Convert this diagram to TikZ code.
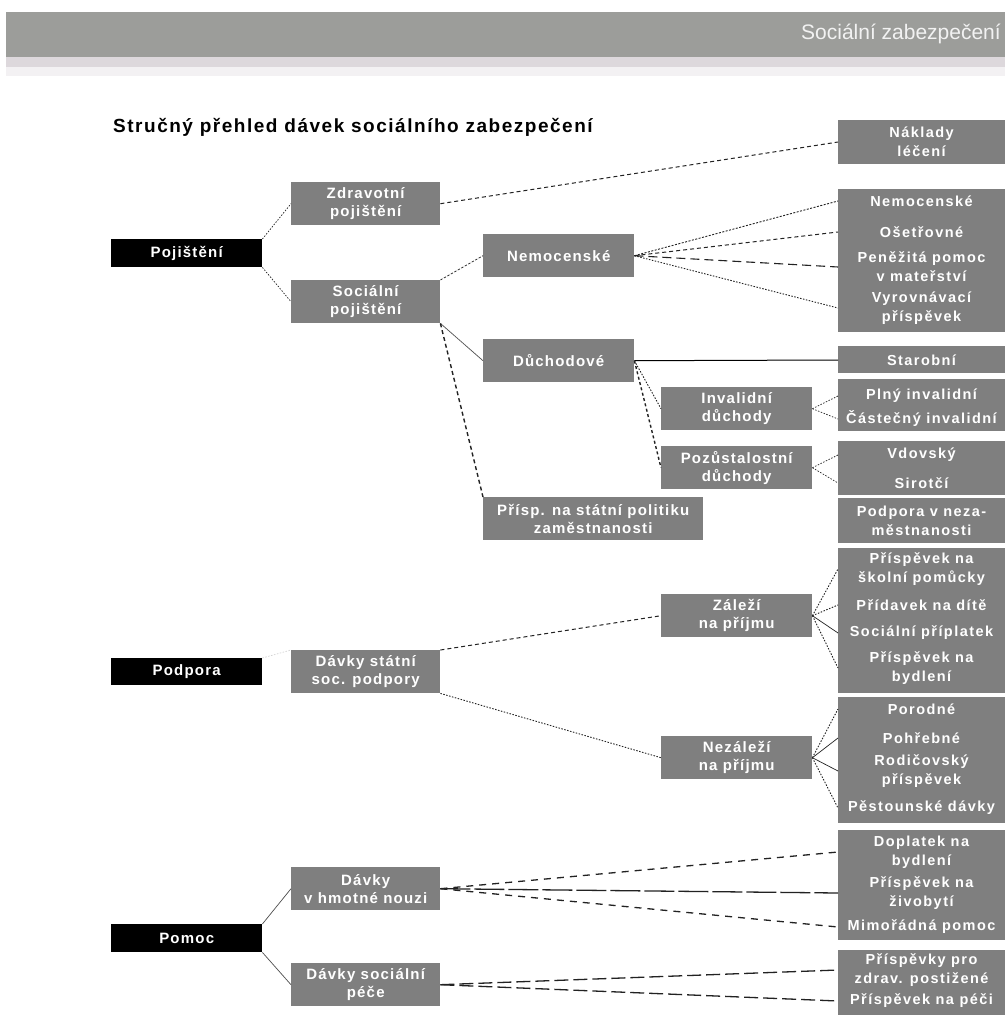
\documentclass[tikz,border=0pt]{standalone}
\usepackage{fontspec}
\setmainfont{Liberation Sans}
\newfontfamily\mycolfont{Liberation Sans}[LetterSpace=8]
\newfontfamily\myrfont{Liberation Sans}[LetterSpace=10]
\newfontfamily\mytitlefont{Liberation Sans}[LetterSpace=8]
\definecolor{boxgray}{HTML}{7F7F7F}
\definecolor{headgray}{HTML}{9C9D9A}
\definecolor{stripe}{HTML}{DDD8DC}
\definecolor{headtxt}{HTML}{F2F2F2}
\definecolor{linecol}{HTML}{222222}
\tikzset{
  blk/.style={fill=black, text=white, inner sep=0pt, anchor=north west,
    minimum width=151, minimum height=28,
    font=\mycolfont\bfseries\fontsize{15}{18}\selectfont},
  gbox/.style={fill=boxgray, text=white, inner sep=0pt, anchor=north west,
    align=center, minimum height=43,
    font=\mycolfont\bfseries\fontsize{15}{18}\selectfont},
  rbox/.style={fill=boxgray, inner sep=0pt, anchor=north west, minimum width=167},
  rtxt/.style={text=white, align=center, inner sep=0pt,
    font=\myrfont\bfseries\fontsize{14.5}{19}\selectfont},
  con/.style={draw=linecol, line width=0.7pt},
  dotl/.style={con, dash pattern=on 1.5pt off 1.5pt},
  dashl/.style={con, line width=1pt, dash pattern=on 4pt off 3pt},
  thickdash/.style={con, line width=1.4pt, dash pattern=on 4pt off 3pt},
  longdash/.style={con, line width=1.3pt, dash pattern=on 9pt off 5pt},
  vlongdash/.style={con, line width=1.3pt, dash pattern=on 30pt off 4pt},
}
\begin{document}
\begin{tikzpicture}[x=1pt, y=-1pt]
\useasboundingbox (0,0) rectangle (1005,1015);
\fill[white] (0,0) rectangle (1005,1015);
% header
\fill[headgray] (6,12) rectangle (1005,57);
\fill[stripe] (6,57) rectangle (1005,67);
\fill[stripe!35] (6,67) rectangle (1005,76);
\node[anchor=east, text=headtxt, inner sep=0pt, font=\fontsize{21}{24}\selectfont] (head) at (1001,34) {Sociální zabezpečení};
% title
\node[anchor=base west, inner sep=0pt, font=\mytitlefont\bfseries\fontsize{19}{21}\selectfont] (title) at (113,132) {Stručný přehled dávek sociálního zabezpečení};

% black boxes
\node[blk] (poj) at (111,239) {Pojištění};
\node[blk, minimum height=27] (pod) at (111,658) {Podpora};
\node[blk] (pom) at (111,924) {Pomoc};

% column 2
\node[gbox, minimum width=149] (zdrav) at (291,182) {Zdravotní\\pojištění};
\node[gbox, minimum width=149] (socp) at (291,280) {Sociální\\pojištění};
\node[gbox, minimum width=149] (dss) at (291,650) {Dávky státní\\soc. podpory};
\node[gbox, minimum width=149] (dhn) at (291,867) {Dávky\\v hmotné nouzi};
\node[gbox, minimum width=149] (dsp) at (291,963) {Dávky sociální\\péče};

% column 3
\node[gbox, minimum width=151] (nem) at (483,234) {Nemocenské};
\node[gbox, minimum width=151] (duch) at (483,339) {Důchodové};
\node[gbox, minimum width=220] (prisp) at (483,497) {Přísp. na státní politiku\\zaměstnanosti};

% column 4
\node[gbox, minimum width=151] (inv) at (661,387) {Invalidní\\důchody};
\node[gbox, minimum width=151] (pozu) at (661,446) {Pozůstalostní\\důchody};
\node[gbox, minimum width=151] (zal) at (661,594) {Záleží\\na příjmu};
\node[gbox, minimum width=151] (nezal) at (661,736) {Nezáleží\\na příjmu};

% right column boxes
\node[rbox, minimum height=44] (g1) at (838,120) {};
\node[rbox, minimum height=143] (g2) at (838,189) {};
\node[rbox, minimum height=27] (g3) at (838,346) {};
\node[rbox, minimum height=52] (g4) at (838,379) {};
\node[rbox, minimum height=54] (g5) at (838,441) {};
\node[rbox, minimum height=45] (g6) at (838,498) {};
\node[rbox, minimum height=145] (g7) at (838,548) {};
\node[rbox, minimum height=126] (g8) at (838,697) {};
\node[rbox, minimum height=110] (g9) at (838,830) {};
\node[rbox, minimum height=66] (g10) at (838,950) {};

% right column texts
\node[rtxt] (r1) at (921.5,142) {Náklady\\léčení};
\node[rtxt] (r2a) at (921.5,201) {Nemocenské};
\node[rtxt] (r2b) at (921.5,232) {Ošetřovné};
\node[rtxt] (r2c) at (921.5,267) {Peněžitá pomoc\\v mateřství};
\node[rtxt] (r2d) at (921.5,308) {Vyrovnávací\\příspěvek};
\node[rtxt] (r3) at (921.5,360) {Starobní};
\node[rtxt] (r4a) at (921.5,396) {Plný invalidní};
\node[rtxt] (r4b) at (921.5,419) {Částečný invalidní};
\node[rtxt] (r5a) at (921.5,455) {Vdovský};
\node[rtxt] (r5b) at (921.5,483) {Sirotčí};
\node[rtxt] (r6) at (921.5,521) {Podpora v neza-\\městnanosti};
\node[rtxt] (r7a) at (921.5,569) {Příspěvek na\\školní pomůcky};
\node[rtxt] (r7b) at (921.5,605) {Přídavek na dítě};
\node[rtxt] (r7c) at (921.5,633) {Sociální příplatek};
\node[rtxt] (r7d) at (921.5,668) {Příspěvek na\\bydlení};
\node[rtxt] (r8a) at (921.5,709) {Porodné};
\node[rtxt] (r8b) at (921.5,738) {Pohřebné};
\node[rtxt] (r8c) at (921.5,771) {Rodičovský\\příspěvek};
\node[rtxt] (r8d) at (921.5,808) {Pěstounské dávky};
\node[rtxt] (r9a) at (921.5,852) {Doplatek na\\bydlení};
\node[rtxt] (r9b) at (921.5,893) {Příspěvek na\\živobytí};
\node[rtxt] (r9c) at (921.5,927) {Mimořádná pomoc};
\node[rtxt] (r10a) at (921.5,970) {Příspěvky pro\\zdrav. postižené};
\node[rtxt] (r10b) at (921.5,1001) {Příspěvek na péči};

% connectors: Pojištění
\draw[dotl] (poj.north east) -- (zdrav.west);
\draw[dotl] (poj.south east) -- (socp.west);
\draw[dashl] (zdrav.east) -- (g1.west |- r1);
\draw[dotl, dash pattern=on 2.5pt off 1.5pt] (socp.north east) -- (nem.west);
\draw[con, draw=linecol!80] (socp.south east) -- (duch.west);
\draw[thickdash] (socp.south east) -- (prisp.north west);
% Nemocenské fan
\draw[dotl, line width=0.9pt, dash pattern=on 2pt off 1.5pt] (nem.east) -- (g2.west |- r2a);
\draw[dashl] (nem.east) -- (g2.west |- r2b);
\draw[longdash, line width=1.1pt] (nem.east) -- (g2.west |- r2c);
\draw[dotl, line width=0.9pt] (nem.east) -- (g2.west |- r2d);
% Důchodové
\draw[con, line width=1pt, draw=black] (duch.east) -- (g3.west |- r3);
\draw[dotl, line width=0.9pt] (duch.east) -- (inv.west);
\draw[thickdash, dash pattern=on 3pt off 2.5pt] (duch.east) -- (pozu.west);
\draw[dotl] (inv.east) -- (g4.west |- r4a);
\draw[dotl] (inv.east) -- (g4.west |- r4b);
\draw[dotl] (pozu.east) -- (g5.west |- r5a);
\draw[dotl] (pozu.east) -- (g5.west |- r5b);
% Podpora
\draw[dotl, draw=linecol!20] (pod.north east) -- (dss.north west);
\draw[dashl] (dss.north east) -- (zal.west);
\draw[dotl, line width=0.9pt] (dss.south east) -- (nezal.west);
\draw[dotl, line width=0.9pt] (zal.east) -- (g7.west |- r7a);
\draw[dotl, line width=0.9pt] (zal.east) -- (g7.west |- r7b);
\draw[con] (zal.east) -- (g7.west |- r7c);
\draw[dotl, line width=0.9pt] (zal.east) -- (g7.west |- r7d);
\draw[dotl, line width=0.9pt] (nezal.east) -- (g8.west |- r8a);
\draw[con] (nezal.east) -- (g8.west |- r8b);
\draw[con] (nezal.east) -- (g8.west |- r8c);
\draw[dotl, line width=0.9pt] (nezal.east) -- (g8.west |- r8d);
% Pomoc
\draw[con, draw=linecol!80] (pom.north east) -- (dhn.west);
\draw[con, draw=linecol!80] (pom.south east) -- (dsp.west);
\draw[longdash, dash pattern=on 7pt off 6pt] (dhn.east) -- (g9.west |- r9a);
\draw[vlongdash] (dhn.east) -- (g9.west |- r9b);
\draw[longdash, dash pattern=on 7pt off 6pt] (dhn.east) -- (g9.west |- r9c);
\draw[longdash, dash pattern=on 14pt off 5pt] (dsp.east) -- (g10.west |- r10a);
\draw[longdash, dash pattern=on 14pt off 5pt] (dsp.east) -- (g10.west |- r10b);
\end{tikzpicture}
\end{document}
